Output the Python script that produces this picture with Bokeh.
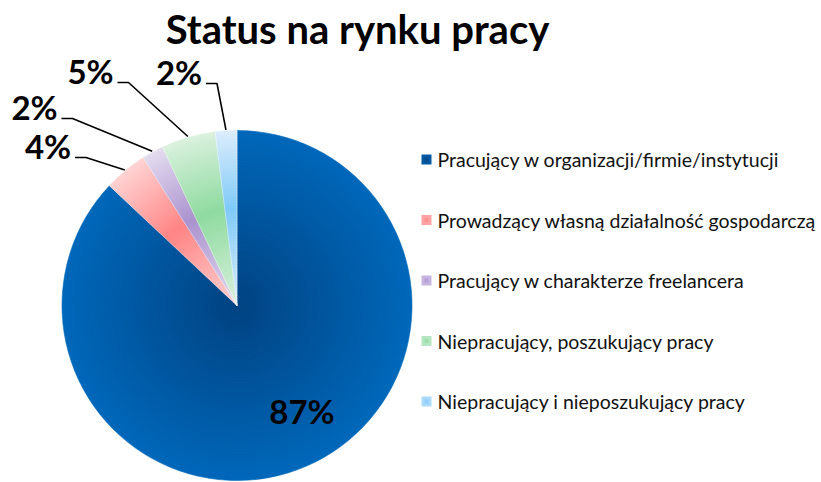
import numpy as np
from bokeh.plotting import figure
from bokeh.models import Range1d, ColumnDataSource
from bokeh.core.properties import value
from bokeh.embed import file_html
from bokeh.resources import INLINE

# ---------------- data ----------------
title = "Status na rynku pracy"
categories = [
    "Pracujący w organizacji/firmie/instytucji",
    "Prowadzący własną działalność gospodarczą",
    "Pracujący w charakterze freelancera",
    "Niepracujący, poszukujący pracy",
    "Niepracujący i nieposzukujący pracy",
]
shares = [87, 4, 2, 5, 2]
pct_labels = ["87%", "4%", "2%", "5%", "2%"]

# ---------------- style ----------------
dark_colors = ["#014382", "#ff8585", "#ab93cf", "#8fdba0", "#7fcaf8"]
light_colors = ["#0068ba", "#ffd3d3", "#e4dcef", "#daf1de", "#dcedfc"]
peak_frac = [0.0, 0.55, 0.55, 0.55, 0.55]   # radius fraction where slice is darkest
legend_colors = ["#0058a3", "#ffa3a3", "#c6b6e1", "#b3e7bf", "#aadbfb"]

W, H = 821, 482
CX, CY, R = 236.5, 177.0, 175.0
FONT = "Lato"
LABEL_SHIFT = 12   # baseline correction for bold % labels
TITLE_SHIFT = 15

# label layout (x, baseline) in plot pixels
label_pos = [(301.5, 60), (47.5, 325), (34, 364), (90, 400), (178.5, 399)]


def hex2rgb(h):
    h = h.lstrip("#")
    return np.array([int(h[i:i + 2], 16) for i in (0, 2, 4)], dtype=float)


def rgb2hex(c):
    c = np.clip(np.round(c), 0, 255).astype(int)
    return "#%02x%02x%02x" % tuple(c)


p = figure(width=W, height=H, output_backend="svg", toolbar_location=None,
           x_range=Range1d(0, W), y_range=Range1d(0, H),
           x_axis_type=None, y_axis_type=None, min_border=0)
p.outline_line_color = None
p.grid.visible = False
p.background_fill_color = "white"

# angles (clockwise from top)
vals = np.array(shares, dtype=float)
frac = vals / vals.sum()
cum = np.concatenate([[0], np.cumsum(frac)])
start_ang = np.pi / 2 - cum[1:] * 2 * np.pi
end_ang = np.pi / 2 - cum[:-1] * 2 * np.pi
mid_ang = (start_ang + end_ang) / 2

# radial-gradient pie: nested wedges from outer to inner
N = 60
xs, ys, rs, sa, ea, cols = [], [], [], [], [], []
for k in range(N):
    r = R * (N - k) / N
    rmid = r - R / N / 2
    for i in range(len(shares)):
        pk = peak_frac[i] * R
        if rmid >= pk:
            t = (rmid - pk) / (R - pk)
        else:
            t = (pk - rmid) / pk
        t = min(max(t, 0.0), 1.0)
        c = hex2rgb(dark_colors[i]) * (1 - t) + hex2rgb(light_colors[i]) * t
        xs.append(CX); ys.append(CY); rs.append(r)
        sa.append(start_ang[i]); ea.append(end_ang[i]); cols.append(rgb2hex(c))
src = ColumnDataSource(dict(x=xs, y=ys, r=rs, sa=sa, ea=ea, c=cols))
p.wedge(x="x", y="y", radius="r", start_angle="sa", end_angle="ea",
        fill_color="c", line_color="c", line_width=0.6, source=src)

# thin light separators between slices
p.ray(x=[CX] * len(shares), y=[CY] * len(shares), length=R, angle=list(start_ang),
      length_units="data", line_color="white", line_alpha=0.55, line_width=0.8)

# percentage labels
lx = [q[0] for q in label_pos]
ly = [q[1] + LABEL_SHIFT for q in label_pos]
p.text(x=lx, y=ly, text=pct_labels, text_font=value(FONT), text_font_style="bold",
       text_font_size="33px", text_align="center", text_baseline="alphabetic",
       text_color="black")

# leader lines for small slices
for i in range(1, len(shares)):
    x0, y0 = label_pos[i]
    ex = CX + (R + 1) * np.cos(mid_ang[i])
    ey = CY + (R + 1) * np.sin(mid_ang[i])
    p.line(x=[x0 + 27, x0 + 38, ex], y=[y0, y0, ey], line_color="black", line_width=1.6)

# title
p.text(x=[357], y=[439 + TITLE_SHIFT], text=[title], text_font=value(FONT),
       text_font_style="bold", text_font_size="40px", text_align="center",
       text_baseline="alphabetic", text_color="black")

# legend
n = len(categories)
leg_y = [323 - 60.5 * i for i in range(n)]
p.scatter(x=[426] * n, y=leg_y, marker="square", size=10, fill_color=legend_colors,
          line_color=None)
p.scatter(x=[426] * n, y=leg_y, marker="square", size=4, fill_color=dark_colors,
          fill_alpha=0.6, line_color=None)
p.text(x=[437] * n, y=leg_y, text=categories, text_font=value(FONT),
       text_font_size="19.5px", text_align="left", text_baseline="middle",
       text_color="#111111")

open("out.html", "w").write(file_html(p, INLINE))
